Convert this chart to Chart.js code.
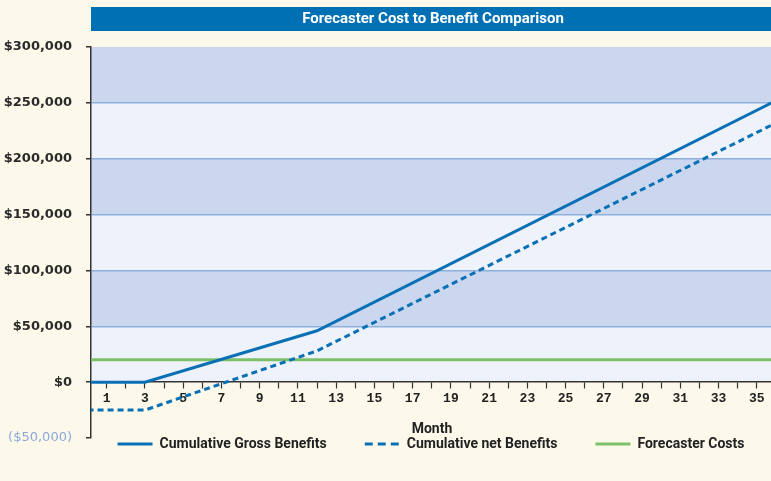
<!DOCTYPE html>
<html>
<head>
<meta charset="utf-8">
<script src="https://cdn.jsdelivr.net/npm/chart.js@4.4.0/dist/chart.umd.min.js"></script>
<style>
  html, body { margin: 0; padding: 0; background: #fdf9ea; }
</style>
</head>
<body>
<canvas id="costChart" width="771" height="481"></canvas>
<script>
  // values
  const months = [0, 3, 12, 36];
  const grossBenefits = [0, 0, 46000, 252000];
  const netBenefits = [-25000, -25000, 28000, 232000];
  const forecasterCosts = [20000, 20000, 20000, 20000];

  const monthTicks = [1, 2, 3, 4, 5, 6, 7, 8, 9, 10, 11, 12, 13, 14, 15, 16, 17, 18,
    19, 20, 21, 22, 23, 24, 25, 26, 27, 28, 29, 30, 31, 32, 33, 34, 35];
  const dollarTicks = [-50000, 0, 50000, 100000, 150000, 200000, 250000, 300000];

  const chartTitle = 'Forecaster Cost to Benefit Comparison';
  const xTitle = 'Month';

  const blue = '#0a70b6';
  const green = '#7dc06a';
  const bandDark = '#cad7ee';
  const bandLight = '#eef2fa';
  const cream = '#fdf9ea';

  function points(values) {
    return months.map((m, i) => ({ x: m, y: values[i] }));
  }

  function money(v) {
    const s = '$' + Math.abs(v).toLocaleString('en-US');
    return v < 0 ? '(' + s + ')' : s;
  }

  // background bands, title bar, axis title
  const decor = {
    id: 'decor',
    beforeDraw(chart) {
      const { ctx, chartArea } = chart;
      const y = chart.scales.y;
      ctx.save();
      ctx.fillStyle = cream;
      ctx.fillRect(0, 0, chart.width, chart.height);
      for (let i = 1; i < dollarTicks.length - 1; i++) {
        const lo = Math.max(dollarTicks[i], 0);
        const hi = dollarTicks[i + 1];
        if (hi <= 0) continue;
        const top = y.getPixelForValue(hi);
        const bot = y.getPixelForValue(lo);
        ctx.fillStyle = (hi / 50000) % 2 === 0 ? bandDark : bandLight;
        ctx.fillRect(chartArea.left, top, chartArea.right - chartArea.left, bot - top);
      }
      // title bar
      ctx.fillStyle = '#0070b4';
      ctx.fillRect(chartArea.left, 7, chartArea.right - chartArea.left, 24);
      ctx.fillStyle = '#ffffff';
      ctx.font = 'bold 15px Roboto, sans-serif';
      ctx.textAlign = 'center';
      ctx.textBaseline = 'middle';
      ctx.fillText(chartTitle, (chartArea.left + chartArea.right) / 2 + 2, 19.5);
      ctx.restore();
    },
    afterLayout(chart) {
      // legend sits just under the plot, centred on the plot area
      const lg = chart.legend;
      const ca = chart.chartArea;
      const pad = lg.options.labels.padding;
      const h = lg.height;
      lg.top = ca.bottom - 1 - pad;
      lg.bottom = lg.top + h;
      const shift = (ca.left + ca.right) / 2 - (lg.left + lg.right) / 2;
      lg.left += shift;
      lg.right += shift;
    },
    afterDraw(chart) {
      const { ctx, chartArea } = chart;
      const zero = chart.scales.y.getPixelForValue(0);
      ctx.save();
      ctx.fillStyle = '#222';
      ctx.font = 'bold 14px Roboto, sans-serif';
      ctx.textAlign = 'center';
      ctx.textBaseline = 'middle';
      ctx.fillText(xTitle, (chartArea.left + chartArea.right) / 2 + 1, zero + 47);
      ctx.restore();
    }
  };

  const ctx = document.getElementById('costChart').getContext('2d');

  new Chart(ctx, {
    type: 'line',
    data: {
      datasets: [{
        label: 'Cumulative Gross Benefits',
        data: points(grossBenefits),
        borderColor: blue,
        backgroundColor: blue,
        borderWidth: 3,
        pointRadius: 0
      }, {
        label: 'Cumulative net Benefits',
        data: points(netBenefits),
        borderColor: blue,
        backgroundColor: blue,
        borderWidth: 3,
        borderDash: [6, 4],
        pointRadius: 0
      }, {
        label: 'Forecaster Costs',
        data: points(forecasterCosts),
        borderColor: green,
        backgroundColor: green,
        borderWidth: 3,
        pointRadius: 0
      }]
    },
    options: {
      responsive: false,
      animation: false,
      layout: {
        padding: { top: 47, right: 0, left: 0, bottom: -19 }
      },
      plugins: {
        title: { display: false },
        tooltip: { enabled: false },
        legend: {
          position: 'bottom',
          labels: {
            usePointStyle: true,
            pointStyle: 'line',
            pointStyleWidth: 35,
            padding: 38,
            color: '#222',
            font: { family: 'Roboto, sans-serif', size: 14, weight: 'bold' },
            generateLabels: chart => {
              const items = Chart.defaults.plugins.legend.labels.generateLabels(chart);
              items.forEach(it => {
                const ds = chart.data.datasets[it.datasetIndex];
                it.strokeStyle = ds.borderColor;
                it.lineWidth = ds.borderWidth;
                it.lineDash = ds.borderDash ? [8, 5] : [];
              });
              return items;
            }
          }
        }
      },
      scales: {
        x: {
          type: 'linear',
          position: { y: 0 },
          min: 0.18,
          max: 35.74,
          afterBuildTicks: s => { s.ticks = monthTicks.map(v => ({ value: v })); },
          afterFit: s => { s.height = 0; },
          ticks: {
            autoSkip: false,
            maxRotation: 0,
            padding: 3,
            color: '#222',
            font: { family: '"Liberation Mono", monospace', size: 13, weight: 'bold' },
            callback: v => (v % 2 === 1 ? String(v) : '')
          },
          grid: {
            drawOnChartArea: false,
            drawTicks: true,
            tickLength: 6,
            tickColor: '#333',
            tickWidth: 1.2
          },
          border: { color: '#333', width: 1.5 }
        },
        y: {
          min: -50000,
          max: 300000,
          afterBuildTicks: s => { s.ticks = dollarTicks.map(v => ({ value: v })); },
          afterFit: s => { s.width = 91; },
          ticks: {
            padding: 14,
            color: c => (c.tick && c.tick.value < 0 ? '#8aa9d9' : '#2a2a2a'),
            font: c => ({
              family: '"DejaVu Sans", sans-serif',
              size: 13,
              weight: c.tick && c.tick.value < 0 ? 'normal' : 'bold'
            }),
            callback: v => money(v)
          },
          grid: {
            color: c => (c.tick && c.tick.value > 0 && c.tick.value < 300000 ? '#8fb0dc' : 'rgba(0,0,0,0)'),
            lineWidth: 1.5,
            tickLength: 5,
            tickColor: '#333'
          },
          border: { color: '#333', width: 1.5 }
        }
      }
    },
    plugins: [decor]
  });
</script>
</body>
</html>
